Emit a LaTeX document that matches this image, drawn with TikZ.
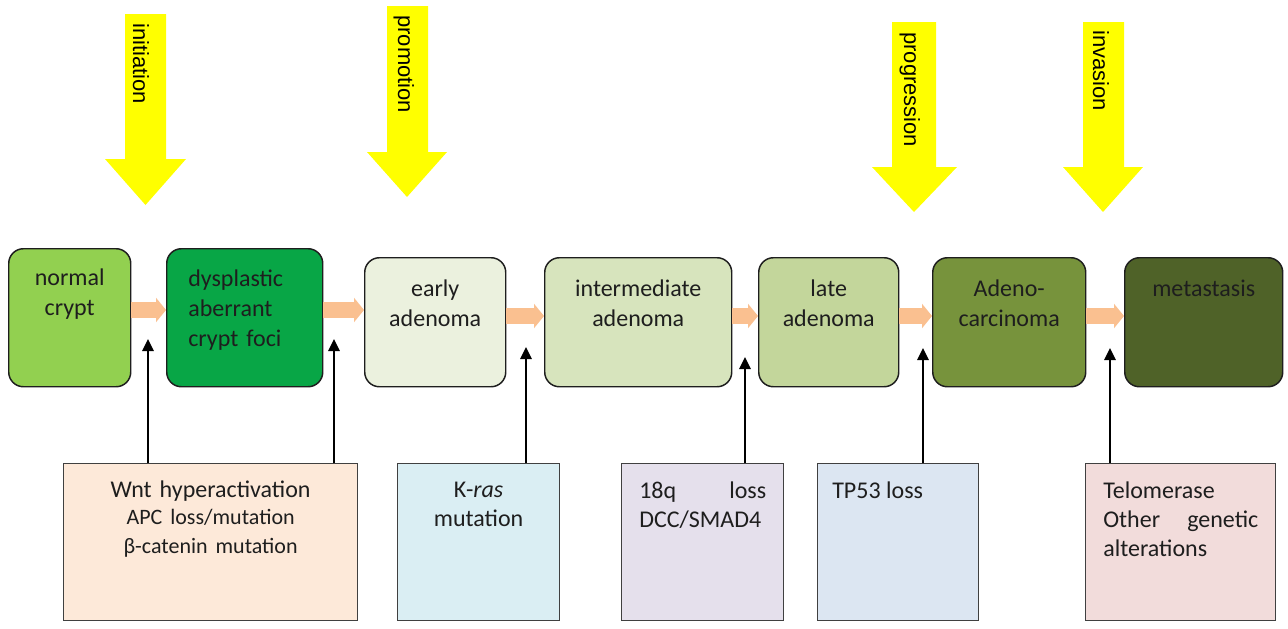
\documentclass[tikz,border=0pt]{standalone}
\usepackage{fontspec}
\setmainfont{Carlito}
\newfontfamily\arialf{Liberation Sans}
\usetikzlibrary{arrows.meta}
\definecolor{cA}{HTML}{92D050}
\definecolor{cB}{HTML}{08A646}
\definecolor{cC}{HTML}{EBF1DE}
\definecolor{cD}{HTML}{D7E4BD}
\definecolor{cE}{HTML}{C3D69B}
\definecolor{cF}{HTML}{77933C}
\definecolor{cG}{HTML}{4F6228}
\definecolor{peach}{HTML}{FAC090}
\definecolor{bA}{HTML}{FDE9D9}
\definecolor{bB}{HTML}{DAEEF3}
\definecolor{bC}{HTML}{E5E0EC}
\definecolor{bD}{HTML}{DCE6F2}
\definecolor{bE}{HTML}{F2DCDB}
\definecolor{yel}{HTML}{FFFF00}
\definecolor{ink}{HTML}{1E1E1E}
\begin{document}
\begin{tikzpicture}[x=0.75pt,y=-0.75pt,
  stage/.style={draw=ink, line width=1.1pt, rounded corners=11pt, anchor=north west, inner sep=0pt, minimum height=103.5pt},
  stage2/.style={stage, minimum height=96.75pt},
  stt/.style={text=ink, font=\fontsize{18}{22.5}\selectfont, align=center, text width=140pt, anchor=base, inner sep=0pt},
  gbox/.style={draw=ink!85, line width=0.9pt, anchor=north west, inner sep=0pt, minimum height=117.75pt},
  gtt/.style={text=ink, font=\fontsize{18}{21.75}\selectfont, inner sep=0pt},
  pk/.style={draw=peach, line width=12pt, -{Triangle[length=7.5pt,width=18pt]}},
  upar/.style={draw=black, line width=1.5pt, -{Triangle[length=9pt,width=8.5pt]}},
  yarr/.style={fill=yel},
  ylab/.style={rotate=-90, anchor=base west, inner sep=0pt, text=black, font=\arialf\fontsize{16.5}{18}\selectfont}]
\fill[white] (0,0) rectangle (1288,628);
\useasboundingbox (0,0) rectangle (1288,628);

% yellow arrows
\fill[yarr] (125,14) -- (166,14) -- (166,159) -- (186,159) -- (145.5,205) -- (105,159) -- (125,159) -- cycle;
\fill[yarr] (387,6) -- (428,6) -- (428,152) -- (447,152) -- (407,197) -- (367,152) -- (387,152) -- cycle;
\fill[yarr] (892,22) -- (936,22) -- (936,167) -- (957,167) -- (914,212) -- (872,167) -- (892,167) -- cycle;
\fill[yarr] (1083,22) -- (1124,22) -- (1124,167) -- (1143,167) -- (1103,212) -- (1063,167) -- (1083,167) -- cycle;
\node[ylab] (lab1) at (133,23) {initiation};
\node[ylab] (lab2) at (398,15) {promotion};
\node[ylab] (lab3) at (904,32) {progression};
\node[ylab] (lab4) at (1093,30) {invasion};

% stage boxes
\node[stage, fill=cA, minimum width=91.5pt] (n1) at (8,248) {};
\node[stage, fill=cB, minimum width=117pt] (n2) at (166,248) {};
\node[stage2, fill=cC, minimum width=105.75pt] (n3) at (364,257) {};
\node[stage2, fill=cD, minimum width=140.25pt] (n4) at (544,257) {};
\node[stage2, fill=cE, minimum width=105pt] (n5) at (758,257) {};
\node[stage2, fill=cF, minimum width=114.75pt] (n6) at (932,257) {};
\node[stage2, fill=cG, minimum width=118.5pt] (n7) at (1124,257) {};

\coordinate (r1) at (0,285);
\coordinate (r2) at (0,296);
\node[stt] (n1t) at (n1.north |- r1) {normal\\crypt};
\node[stt, align=left, text width=100pt, anchor=base west] (n2t) at (188,286) {dysplastic\\aberrant\\crypt foci};
\node[stt] (n3t) at (n3.north |- r2) {early\\adenoma};
\node[stt] (n4t) at (n4.north |- r2) {intermediate\\adenoma};
\node[stt] (n5t) at (n5.north |- r2) {late\\adenoma};
\node[stt] (n6t) at (n6.north |- r2) {Adeno-\\carcinoma};
\node[stt] (n7t) at (n7.north |- r2) {metastasis};

% peach arrows
\coordinate (p1) at (0,310);
\coordinate (p2) at (0,316);
\draw[pk] (n1.east |- p1) -- (n2.west |- p1);
\draw[pk] (n2.east |- p1) -- (n3.west |- p1);
\draw[pk] (n3.east |- p2) -- (n4.west |- p2);
\draw[pk] (n4.east |- p2) -- (n5.west |- p2);
\draw[pk] (n5.east |- p2) -- (n6.west |- p2);
\draw[pk] (n6.east |- p2) -- (n7.west |- p2);

% bottom boxes
\node[gbox, fill=bA, minimum width=220.5pt] (b1) at (63,463) {};
\node[gbox, fill=bB, minimum width=121.5pt] (b2) at (397,463) {};
\node[gbox, fill=bC, minimum width=121.5pt] (b3) at (621,463) {};
\node[gbox, fill=bD, minimum width=120.75pt] (b4) at (817,463) {};
\node[gbox, fill=bE, minimum width=142.5pt] (b5) at (1085,463) {};

\coordinate (q1) at (0,497);
\node[gtt, align=center, text width=210pt, anchor=base] (b1t) at (b1.north |- q1)
  {Wnt hyperactivation\\\fontsize{16.5}{20.5}\selectfont APC loss/mutation\\β-catenin mutation};
\node[gtt, align=center, text width=115pt, anchor=base] (b2t) at (b2.north |- q1) {K-\textit{ras}\\mutation};
\node[gtt, align=left, text width=95.25pt, anchor=base west] (b3t) at (639,498) {18q\hfill loss\\DCC/SMAD4};
\node[gtt, align=left, anchor=base west] (b4t) at (832,498) {TP53 loss};
\node[gtt, align=left, text width=116.25pt, anchor=base west] (b5t) at (1103,498) {Telomerase\\Other\hfill genetic\\alterations};

% upward black arrows
\coordinate (t1) at (148,339);
\coordinate (t2) at (334,339);
\coordinate (t3) at (526,347);
\coordinate (t4) at (745,357);
\coordinate (t5) at (923,348);
\coordinate (t6) at (1110,348);
\draw[upar] (b1.north -| t1) -- (t1);
\draw[upar] (b1.north -| t2) -- (t2);
\draw[upar] (b2.north -| t3) -- (t3);
\draw[upar] (b3.north -| t4) -- (t4);
\draw[upar] (b4.north -| t5) -- (t5);
\draw[upar] (b5.north -| t6) -- (t6);
\end{tikzpicture}
\end{document}
